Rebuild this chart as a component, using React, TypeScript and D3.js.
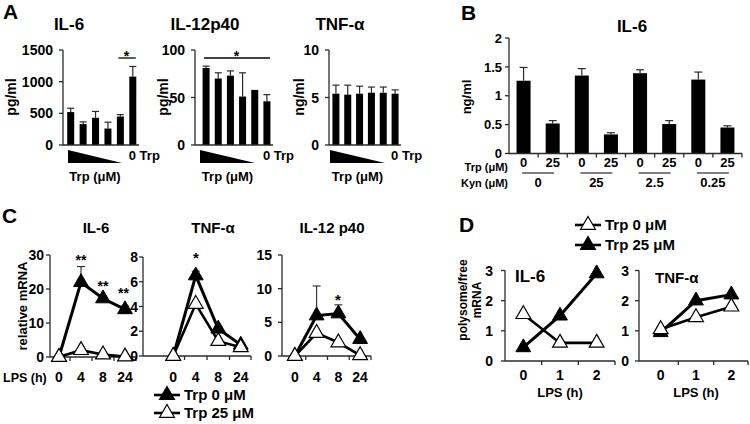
import React from 'react';
import * as d3 from 'd3';

const FONT = "'Liberation Sans', Arial, Helvetica, sans-serif";
const INK = '#000';
const AXIS = '#2a2a2a';

// ---------- Panel A ----------
const aIL6 = [520, 330, 430, 260, 450, 1080];
const aIL6Err = [60, 35, 100, 100, 30, 160];
const aIL6Ticks = [0, 500, 1000, 1500];
const aIL12 = [81, 70, 73, 51, 58, 46];
const aIL12Err = [2, 6, 5, 25, 0, 7];
const aIL12Ticks = [0, 50, 100];
const aTNF = [5.4, 5.3, 5.4, 5.5, 5.5, 5.4];
const aTNFErr = [0.9, 1.0, 0.8, 0.6, 0.6, 0.4];
const aTNFTicks = [0, 5, 10];

// ---------- Panel B ----------
const bTrp = ['0', '25', '0', '25', '0', '25', '0', '25'];
const bKyn = ['0', '25', '2.5', '0.25'];
const bIL6 = [1.26, 0.52, 1.35, 0.33, 1.39, 0.51, 1.28, 0.45];
const bIL6Err = [0.23, 0.05, 0.12, 0.03, 0.06, 0.06, 0.13, 0.03];
const bTicks = [0, 0.5, 1, 1.5, 2];

// ---------- Panel C ----------
const cHours = ['0', '4', '8', '24'];
const cIL6Trp0 = [0, 22, 17.2, 14];
const cIL6Trp0Err = [0, 4.6, 0.8, 1.0];
const cIL6Trp25 = [0, 2, 0.7, 0.1];
const cIL6Ticks = [0, 10, 20, 30];
const cTNFTrp0 = [0, 6.5, 2.2, 0.9];
const cTNFTrp0Err = [0, 0.35, 0.2, 0.1];
const cTNFTrp25 = [0, 4.2, 1.2, 0.7];
const cTNFTicks = [0, 2, 4, 6, 8];
const cIL12Trp0 = [0, 6, 6.3, 2.5];
const cIL12Trp0Err = [0, 4.4, 1.3, 0];
const cIL12Trp25 = [0, 3.4, 2, 0.1];
const cIL12Ticks = [0, 5, 10, 15];

// ---------- Panel D ----------
const dHours = ['0', '1', '2'];
const dIL6Trp0 = [1.55, 0.6, 0.6];
const dIL6Trp25 = [0.45, 1.5, 2.9];
const dTNFTrp0 = [1.05, 1.45, 1.8];
const dTNFTrp25 = [0.95, 2.0, 2.2];
const dTicks = [0, 1, 2, 3];

const triPath = d3.symbol().type(d3.symbolTriangle).size(95)() as string;

function YAxis({ x, y, ticks, size = 14, gap = 6 }: any) {
  const top = y(ticks[ticks.length - 1]);
  const bot = y(ticks[0]);
  return (
    <g>
      <line x1={x} x2={x} y1={top} y2={bot} stroke={AXIS} strokeWidth={1.3} />
      {ticks.map((t: number) => (
        <g key={t}>
          <line x1={x - 4} x2={x} y1={y(t)} y2={y(t)} stroke={AXIS} strokeWidth={1.3} />
          <text x={x - 4 - gap} y={y(t)} dy="0.36em" textAnchor="end" fontSize={size}>{String(t)}</text>
        </g>
      ))}
    </g>
  );
}

function BarPanelA({ values, errs, ticks, axisX, bandStart, bandEnd, title, titleX, unit, unitX, wedge, sig }: any) {
  const x = d3.scaleBand<number>().domain(d3.range(values.length)).range([bandStart, bandEnd]);
  const y = d3.scaleLinear().domain([0, ticks[ticks.length - 1]]).range([145, 50]);
  const bw = 7;
  const cx = (i: number) => (x(i) as number) + x.bandwidth() / 2;
  const lastC = cx(values.length - 1);
  return (
    <g>
      <text x={titleX} y={30} textAnchor="middle" fontSize={17}>{title}</text>
      <text transform={`translate(${unitX},97) rotate(-90)`} textAnchor="middle" dy="0.36em" fontSize={14}>{unit}</text>
      {values.map((v: number, i: number) => (
        <g key={i}>
          {errs[i] > 0 && (
            <g stroke={AXIS} strokeWidth={1.2}>
              <line x1={cx(i)} x2={cx(i)} y1={y(v)} y2={y(v + errs[i])} />
              <line x1={cx(i) - 3.5} x2={cx(i) + 3.5} y1={y(v + errs[i])} y2={y(v + errs[i])} />
            </g>
          )}
          <rect x={cx(i) - bw / 2} y={y(v)} width={bw} height={y(0) - y(v)} fill={INK} />
        </g>
      ))}
      <YAxis x={axisX} y={y} ticks={ticks} size={14} gap={6} />
      <line x1={axisX} x2={bandEnd} y1={y(0)} y2={y(0)} stroke={AXIS} strokeWidth={1.3} />
      <path d={`M${wedge[0]},150L${wedge[0]},163L${wedge[1]},163Z`} fill={INK} />
      <text x={lastC - 4} y={160} fontSize={13}>0 Trp</text>
      <text x={(wedge[0] + wedge[1]) / 2} y={181} textAnchor="middle" fontSize={13}>Trp (μM)</text>
      {sig && (
        <g>
          <line x1={cx(sig[0]) - 2} x2={cx(sig[1]) + 3} y1={58} y2={58} stroke={INK} strokeWidth={1.3} />
          <text x={(cx(sig[0]) + cx(sig[1])) / 2} y={61} textAnchor="middle" fontSize={14}>*</text>
        </g>
      )}
    </g>
  );
}

function PanelB() {
  const x = d3.scaleBand<number>().domain(d3.range(bIL6.length)).range([509, 742]);
  const y = d3.scaleLinear().domain([0, 2]).range([153.5, 38]);
  const cx = (i: number) => (x(i) as number) + x.bandwidth() / 2;
  const bw = 14;
  return (
    <g>
      <text x={632} y={32} textAnchor="middle" fontSize={17}>IL-6</text>
      <text transform="translate(466,97) rotate(-90)" textAnchor="middle" dy="0.36em" fontSize={13}>ng/ml</text>
      {bIL6.map((v, i) => (
        <g key={i}>
          <g stroke={AXIS} strokeWidth={1.2}>
            <line x1={cx(i)} x2={cx(i)} y1={y(v)} y2={y(v + bIL6Err[i])} />
            <line x1={cx(i) - 4} x2={cx(i) + 4} y1={y(v + bIL6Err[i])} y2={y(v + bIL6Err[i])} />
          </g>
          <rect x={cx(i) - bw / 2} y={y(v)} width={bw} height={y(0) - y(v)} fill={INK} />
        </g>
      ))}
      <YAxis x={509} y={y} ticks={bTicks} size={13} gap={3} />
      <line x1={509} x2={742} y1={y(0)} y2={y(0)} stroke={AXIS} strokeWidth={1.3} />
      {d3.range(1, bIL6.length + 1).map((i) => {
        const tx = i < bIL6.length ? (x(i) as number) : 742;
        return <line key={i} x1={tx} x2={tx} y1={y(0)} y2={y(0) + 4} stroke={AXIS} strokeWidth={1.3} />;
      })}
      {bTrp.map((t, i) => (
        <text key={i} x={cx(i)} y={167} textAnchor="middle" fontSize={13}>{t}</text>
      ))}
      <text x={508} y={170.5} textAnchor="end" fontSize={11}>Trp (μM)</text>
      <text x={508} y={187} textAnchor="end" fontSize={11}>Kyn (μM)</text>
      {bKyn.map((k, g) => {
        const mid = (cx(2 * g) + cx(2 * g + 1)) / 2;
        return (
          <g key={g}>
            <line x1={mid - 16} x2={mid + 16} y1={173} y2={173} stroke="#555" strokeWidth={1.3} />
            <text x={mid} y={187} textAnchor="middle" fontSize={13}>{k}</text>
          </g>
        );
      })}
    </g>
  );
}

function LinePanel({ cats, filled, filledErr, open, ticks, axisX, bandStart, bandEnd, axisEnd, y0, yTop, labelY, gap = 6 }: any) {
  const x = d3.scaleBand<number>().domain(d3.range(cats.length)).range([bandStart, bandEnd]);
  const y = d3.scaleLinear().domain([0, ticks[ticks.length - 1]]).range([y0, yTop]);
  const cx = (i: number) => (x(i) as number) + x.bandwidth() / 2;
  const line = d3.line<number>().x((_, i) => cx(i)).y((d) => y(d));
  return (
    <g>
      <YAxis x={axisX} y={y} ticks={ticks} size={14} gap={gap} />
      <line x1={axisX} x2={axisEnd} y1={y(0)} y2={y(0)} stroke={AXIS} strokeWidth={1.3} />
      {d3.range(1, cats.length + 1).map((i) => {
        const tx = i < cats.length ? (x(i) as number) : axisEnd;
        return <line key={i} x1={tx} x2={tx} y1={y(0)} y2={y(0) + 4} stroke={AXIS} strokeWidth={1.3} />;
      })}
      {cats.map((c: string, i: number) => (
        <text key={i} x={cx(i)} y={labelY} textAnchor="middle" fontSize={14}>{c}</text>
      ))}
      {filledErr && filled.map((v: number, i: number) => filledErr[i] > 0 ? (
        <g key={i} stroke={AXIS} strokeWidth={1.1}>
          <line x1={cx(i)} x2={cx(i)} y1={y(v)} y2={y(v + filledErr[i])} />
          <line x1={cx(i) - 4} x2={cx(i) + 4} y1={y(v + filledErr[i])} y2={y(v + filledErr[i])} />
        </g>
      ) : null)}
      <path d={line(filled) as string} fill="none" stroke={INK} strokeWidth={3} />
      {filled.map((v: number, i: number) => (
        <path key={i} d={triPath} transform={`translate(${cx(i)},${y(v)})`} fill={INK} stroke={INK} strokeWidth={1} />
      ))}
      <path d={line(open) as string} fill="none" stroke={INK} strokeWidth={2.6} />
      {open.map((v: number, i: number) => (
        <path key={i} d={triPath} transform={`translate(${cx(i)},${y(v)})`} fill="#fff" stroke={INK} strokeWidth={1.2} />
      ))}
    </g>
  );
}

function LegendItem({ x, y, filled, label }: any) {
  return (
    <g>
      <line x1={x - 13} x2={x + 13} y1={y} y2={y} stroke={INK} strokeWidth={2.6} />
      <path d={triPath} transform={`translate(${x},${y})`} fill={filled ? INK : '#fff'} stroke={INK} strokeWidth={1.2} />
      <text x={x + 17} y={y} dy="0.36em" fontSize={15}>{label}</text>
    </g>
  );
}

export default function App() {
  return (
    <svg width={750} height={424} style={{ position: 'absolute', left: 0, top: 0, background: '#fff' }}
      fontFamily={FONT} fontWeight="bold">
      <rect width={750} height={424} fill="#fff" />
      {/* Panel letters */}
      <text x={3} y={19} fontSize={21}>A</text>
      <text x={461} y={20} fontSize={21}>B</text>
      <text x={2} y={223} fontSize={21}>C</text>
      <text x={459} y={232} fontSize={21}>D</text>

      {/* Panel A */}
      <BarPanelA values={aIL6} errs={aIL6Err} ticks={aIL6Ticks} axisX={63} bandStart={64.5} bandEnd={139}
        title="IL-6" titleX={69} unit="pg/ml" unitX={11} wedge={[68, 122]} sig={[4, 5]} />
      <BarPanelA values={aIL12} errs={aIL12Err} ticks={aIL12Ticks} axisX={195} bandStart={200} bandEnd={273}
        title="IL-12p40" titleX={205} unit="pg/ml" unitX={163} wedge={[200, 255]} sig={[0, 5]} />
      <BarPanelA values={aTNF} errs={aTNFErr} ticks={aTNFTicks} axisX={329} bandStart={330} bandEnd={401}
        title="TNF-α" titleX={340} unit="ng/ml" unitX={299} wedge={[330, 385]} />

      {/* Panel B */}
      <PanelB />

      {/* Panel C */}
      <text x={96} y={233} textAnchor="middle" fontSize={15}>IL-6</text>
      <text x={213} y={233} textAnchor="middle" fontSize={15}>TNF-α</text>
      <text x={332} y={233} textAnchor="middle" fontSize={15}>IL-12 p40</text>
      <text transform="translate(22,306) rotate(-90)" textAnchor="middle" dy="0.36em" fontSize={13}>relative mRNA</text>
      <text x={3} y={382} fontSize={12.5}>LPS (h)</text>
      <LinePanel cats={cHours} filled={cIL6Trp0} filledErr={cIL6Trp0Err} open={cIL6Trp25} ticks={cIL6Ticks}
        axisX={50} bandStart={48} bandEnd={136} axisEnd={136} y0={357} yTop={255} labelY={382} gap={2} />
      <LinePanel cats={cHours} filled={cTNFTrp0} filledErr={cTNFTrp0Err} open={cTNFTrp25} ticks={cTNFTicks}
        axisX={143} bandStart={162} bandEnd={252} axisEnd={251} y0={356} yTop={257} labelY={382} gap={1} />
      <LinePanel cats={cHours} filled={cIL12Trp0} filledErr={cIL12Trp0Err} open={cIL12Trp25} ticks={cIL12Ticks}
        axisX={282} bandStart={284} bandEnd={371} axisEnd={371} y0={356} yTop={255} labelY={382} gap={6} />
      <text x={81} y={265} textAnchor="middle" fontSize={14}>**</text>
      <text x={103} y={291} textAnchor="middle" fontSize={14}>**</text>
      <text x={123.5} y={298} textAnchor="middle" fontSize={14}>**</text>
      <text x={196} y={263} textAnchor="middle" fontSize={15}>*</text>
      <text x={338} y={305} textAnchor="middle" fontSize={15}>*</text>
      <LegendItem x={167} y={395} filled={true} label="Trp 0 μM" />
      <LegendItem x={167} y={413} filled={false} label="Trp 25 μM" />

      {/* Panel D */}
      <text transform="translate(463,300) rotate(-90)" textAnchor="middle" dy="0.36em" fontSize={12}>polysome/free</text>
      <text transform="translate(477,300) rotate(-90)" textAnchor="middle" dy="0.36em" fontSize={12}>mRNA</text>
      <LegendItem x={588} y={225} filled={false} label="Trp 0 μM" />
      <LegendItem x={588} y={245} filled={true} label="Trp 25 μM" />
      <LinePanel cats={dHours} filled={dIL6Trp25} open={dIL6Trp0} ticks={dTicks}
        axisX={505} bandStart={505} bandEnd={615} axisEnd={615} y0={361} yTop={270.5} labelY={380} gap={8} />
      <LinePanel cats={dHours} filled={dTNFTrp25} open={dTNFTrp0} ticks={dTicks}
        axisX={639} bandStart={643} bandEnd={749} axisEnd={748} y0={361} yTop={270.5} labelY={380} gap={6} />
      <text x={515} y={282} fontSize={17}>IL-6</text>
      <text x={655} y={283} fontSize={15}>TNF-α</text>
      <text x={560} y={397} textAnchor="middle" fontSize={13}>LPS (h)</text>
      <text x={696} y={397} textAnchor="middle" fontSize={13}>LPS (h)</text>
    </svg>
  );
}
